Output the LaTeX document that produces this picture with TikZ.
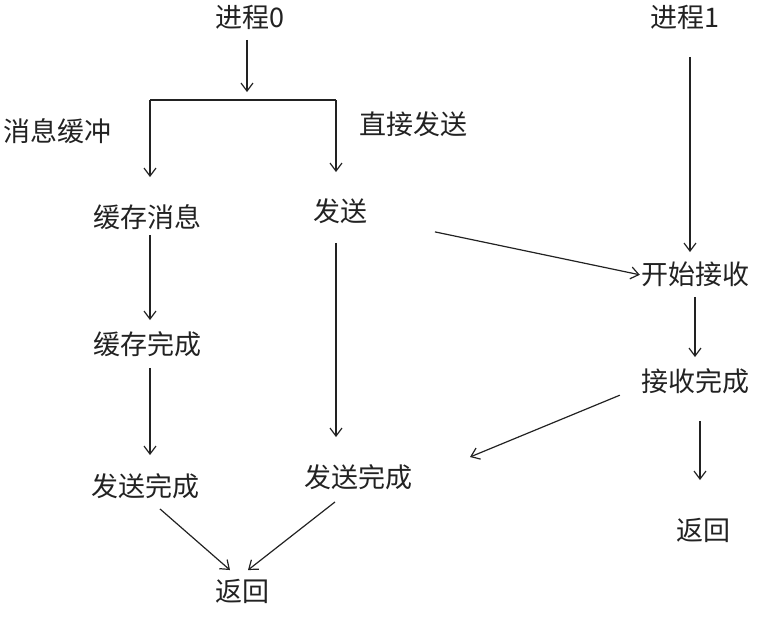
\documentclass[tikz,border=0pt]{standalone}
\usepackage{fontspec}
\newfontfamily\cjk{Noto Sans CJK SC}
\usetikzlibrary{arrows.meta}
\definecolor{ink}{HTML}{222222}
\tikzset{
  lbl/.style={font=\cjk\fontsize{27pt}{30pt}\selectfont, text=ink, inner sep=0pt, text height=21.6pt, text depth=1.9pt, anchor=center},
  conn/.style={draw=ink, line width=1.2pt, -{Straight Barb[length=8pt,width=12pt,line width=1.2pt]}},
  plain/.style={draw=ink, line width=1.2pt}
}
\begin{document}
\begin{tikzpicture}[x=1pt,y=-1pt]
\useasboundingbox (0,0) rectangle (769,619);
% nodes
\node[lbl] (p0) at (250,18) {进程0};
\node[lbl] (p1) at (685,18) {进程1};
\node[lbl] (lbuf) at (58,132) {消息缓冲};
\node[lbl] (ldir) at (413,125) {直接发送};
\node[lbl] (c1) at (147,218) {缓存消息};
\node[lbl] (s1) at (340,212) {发送};
\node[lbl] (r1) at (695,275) {开始接收};
\node[lbl] (c2) at (147,345) {缓存完成};
\node[lbl] (r2) at (695,382) {接收完成};
\node[lbl] (d1) at (145,487) {发送完成};
\node[lbl] (d2) at (358,478) {发送完成};
\node[lbl] (ret0) at (242,592) {返回};
\node[lbl] (ret1) at (703,531) {返回};
% coordinates
\coordinate (fork) at (247,100);
\coordinate (bl) at (150,100);
\coordinate (br) at (336,100);
\coordinate (rx) at (470,457);
% connectors
\draw[conn,shorten >=8pt] ([xshift=-3pt,yshift=-10pt]p0.south) -- (fork);
\draw[plain] (bl) -- (br);
\draw[conn,shorten >=29pt] (bl) -- (bl |- c1.north);
\draw[conn,shorten >=28pt] (br) -- (br |- s1.north);
\draw[conn,shorten <=27pt,shorten >=11pt] ([xshift=5pt]p1.south) -- ([xshift=-5pt]r1.north);
\draw[conn,shorten <=5pt,shorten >=13pt] ([xshift=3pt]c1.south) -- ([xshift=3pt]c2.north);
\draw[conn,shorten <=11pt,shorten >=20pt] ([xshift=3pt]c2.south) -- ([xshift=5pt]d1.north);
\draw[conn,shorten <=19pt,shorten >=29pt] ([xshift=-4pt]s1.south) -- ([xshift=-22pt]d2.north);
\draw[conn,shorten <=97pt,shorten >=1pt] (s1.center) -- (r1.west);
\draw[conn,shorten <=10pt,shorten >=13pt] (r1.south) -- (r2.north);
\draw[conn] ([xshift=-21pt,yshift=-1.25pt]r2.south west) -- (rx);
\draw[conn,shorten <=27pt,shorten >=39pt] ([xshift=5pt]r2.south) -- ([xshift=-3pt]ret1.north);
\draw[conn] ([xshift=15pt,yshift=-10pt]d1.south) -- ([xshift=-12pt,yshift=10pt]ret0.north);
\draw[conn] ([xshift=-23pt,yshift=-12pt]d2.south) -- ([xshift=6pt,yshift=10pt]ret0.north);
\end{tikzpicture}
\end{document}
